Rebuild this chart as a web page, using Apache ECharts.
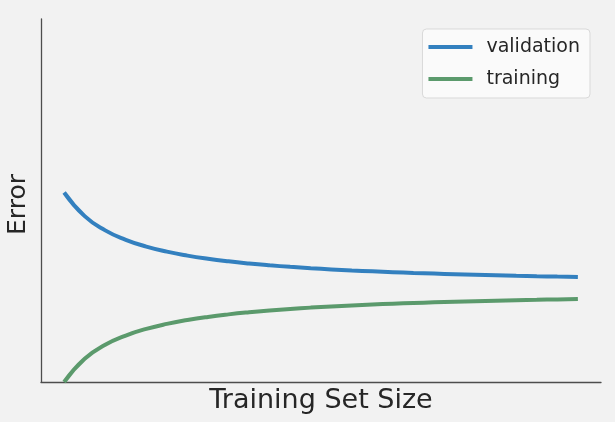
<!DOCTYPE html>
<html>
<head>
<meta charset="utf-8">
<script src="https://cdn.jsdelivr.net/npm/echarts@6/dist/echarts.min.js"></script>
<style>
  html, body { margin: 0; padding: 0; background: #f2f2f2; }
  #chart { width: 615px; height: 422px; }
</style>
</head>
<body>
<div id="chart"></div>
<script>
// training set size (arbitrary units) and error values
var sizes = [0, 4, 8, 12, 16, 20, 24, 28, 32, 36, 40, 44, 48, 52, 56, 60, 64, 68, 72, 76, 80, 84, 88, 92, 96, 100];
var validation = [0.5220, 0.4569, 0.4177, 0.3917, 0.3731, 0.3591, 0.3482, 0.3395, 0.3324, 0.3265, 0.3215, 0.3172, 0.3135,
                  0.3102, 0.3073, 0.3048, 0.3025, 0.3004, 0.2986, 0.2969, 0.2953, 0.2939, 0.2926, 0.2914, 0.2903, 0.2893];
var training = [0.0000, 0.0640, 0.1024, 0.1280, 0.1463, 0.1601, 0.1707, 0.1793, 0.1863, 0.1921, 0.1970, 0.2012, 0.2049,
                0.2081, 0.2109, 0.2134, 0.2157, 0.2177, 0.2195, 0.2212, 0.2227, 0.2241, 0.2254, 0.2265, 0.2276, 0.2287];

function pairs(ys) {
  return sizes.map(function (x, i) { return [x, ys[i]]; });
}

var myChart = echarts.init(document.getElementById('chart'));
var font = 'DejaVu Sans';
var option = {
  backgroundColor: '#f2f2f2',
  animation: false,
  grid: { left: 41, right: 14, top: 19, bottom: 40, containLabel: false, outerBoundsMode: 'none' },
  legend: {
    orient: 'vertical',
    right: 25,
    top: 29,
    padding: [7, 10, 8, 6],
    itemGap: 10,
    itemWidth: 44,
    itemHeight: 4,
    icon: 'rect',
    backgroundColor: '#fafafa',
    borderColor: '#d9d9d9',
    borderWidth: 1,
    borderRadius: 4,
    textStyle: { fontFamily: font, fontSize: 19, color: '#262626', lineHeight: 22, padding: [0, 0, 0, 9] },
    data: ['validation', 'training']
  },
  xAxis: {
    type: 'value',
    min: -4.5,
    max: 104.5,
    name: 'Training Set Size',
    nameLocation: 'middle',
    nameGap: 5,
    nameTextStyle: { fontFamily: font, fontSize: 27, color: '#262626' },
    axisLine: { lineStyle: { color: '#4d4d4d', width: 1.3 } },
    axisTick: { show: false },
    axisLabel: { show: false },
    splitLine: { show: false }
  },
  yAxis: {
    type: 'value',
    min: 0,
    max: 1,
    name: 'Error',
    nameLocation: 'middle',
    nameGap: 10,
    nameTextStyle: { fontFamily: font, fontSize: 25, color: '#262626', padding: [0, 8, 0, 0] },
    axisLine: { show: true, onZero: false, lineStyle: { color: '#4d4d4d', width: 1.3 } },
    axisTick: { show: false },
    axisLabel: { show: false },
    splitLine: { show: false }
  },
  series: [
    {
      name: 'validation',
      type: 'line',
      smooth: true,
      showSymbol: false,
      symbol: 'none',
      data: pairs(validation),
      lineStyle: { width: 4, color: '#3380bf' },
      itemStyle: { color: '#3380bf' }
    },
    {
      name: 'training',
      type: 'line',
      smooth: true,
      showSymbol: false,
      symbol: 'none',
      data: pairs(training),
      lineStyle: { width: 4, color: '#5b9a6c' },
      itemStyle: { color: '#5b9a6c' }
    }
  ]
};

myChart.setOption(option);
</script>
</body>
</html>
